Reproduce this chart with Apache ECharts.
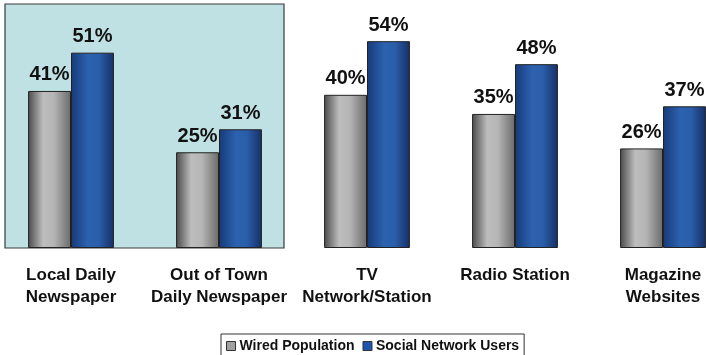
<!DOCTYPE html>
<html>
<head>
<meta charset="utf-8">
<script src="https://cdn.jsdelivr.net/npm/echarts@6/dist/echarts.min.js"></script>
<style>
html,body{margin:0;padding:0;background:#fff;overflow:hidden;}
#chart{width:706px;height:355px;}
</style>
</head>
<body>
<div id="chart"></div>
<script>
const categories = ['Local Daily\nNewspaper', 'Out of Town\nDaily Newspaper', 'TV\nNetwork/Station', 'Radio Station', 'Magazine\nWebsites'];
const wiredPopulation = [41, 25, 40, 35, 26];
const socialNetworkUsers = [51, 31, 54, 48, 37];
const seriesNames = ['Wired Population', 'Social Network Users'];

const FONT = '"Liberation Sans", Arial, sans-serif';
const grayGrad = {type:'linear',x:0,y:0,x2:1,y2:0,colorStops:[
  {offset:0,color:'#4a4a4a'},{offset:0.35,color:'#bdbdbd'},{offset:0.6,color:'#b5b5b5'},{offset:1,color:'#6a6a6a'}]};
const blueGrad = {type:'linear',x:0,y:0,x2:1,y2:0,colorStops:[
  {offset:0,color:'#163a78'},{offset:0.4,color:'#2c62b0'},{offset:0.65,color:'#2a5eaa'},{offset:1,color:'#162f66'}]};

const chart = echarts.init(document.getElementById('chart'), null, {renderer:'canvas'});
const labelCfg = {show:true, position:'top', distance:6, formatter:'{c}%', color:'#111', fontFamily:FONT, fontWeight:'bold', fontSize:20};
chart.setOption({
  animation:false,
  backgroundColor:'#ffffff',
  graphic:[{type:'rect', z:-10, silent:true, shape:{x:5,y:4,width:279,height:244},
    style:{fill:'#bfe1e3', stroke:'#3a3a3a', lineWidth:1.2}}],
  grid:{left:-3, top:18.2, width:740, height:229.8, containLabel:false, outerBoundsMode:'none'},
  legend:{
    bottom:-9, left:221, width:305,
    padding:[5,5,11,5], itemGap:8, itemWidth:9, itemHeight:9,
    borderColor:'#333', borderWidth:1, icon:'rect',
    textStyle:{fontFamily:FONT, fontWeight:'bold', fontSize:14, color:'#111', padding:[0,0,0,-1]},
    data:[{name:seriesNames[0], itemStyle:{color:'#a0a0a0', borderColor:'#333', borderWidth:1}},
          {name:seriesNames[1], itemStyle:{color:'#1f55b0', borderColor:'#333', borderWidth:1}}]
  },
  xAxis:{type:'category', data:categories,
    axisLine:{show:false}, axisTick:{show:false},
    axisLabel:{interval:0, margin:16, color:'#111', fontFamily:FONT, fontWeight:'bold', fontSize:17, lineHeight:22}},
  yAxis:{type:'value', min:0, max:60, show:false, splitLine:{show:false}},
  series:[
    {name:seriesNames[0], type:'bar', data:wiredPopulation, barGap:'0%', barCategoryGap:'42%',
     itemStyle:{color:grayGrad, borderColor:'#222', borderWidth:1}, label:labelCfg},
    {name:seriesNames[1], type:'bar', data:socialNetworkUsers,
     itemStyle:{color:blueGrad, borderColor:'#222', borderWidth:1}, label:labelCfg}
  ]
});
</script>
</body>
</html>
